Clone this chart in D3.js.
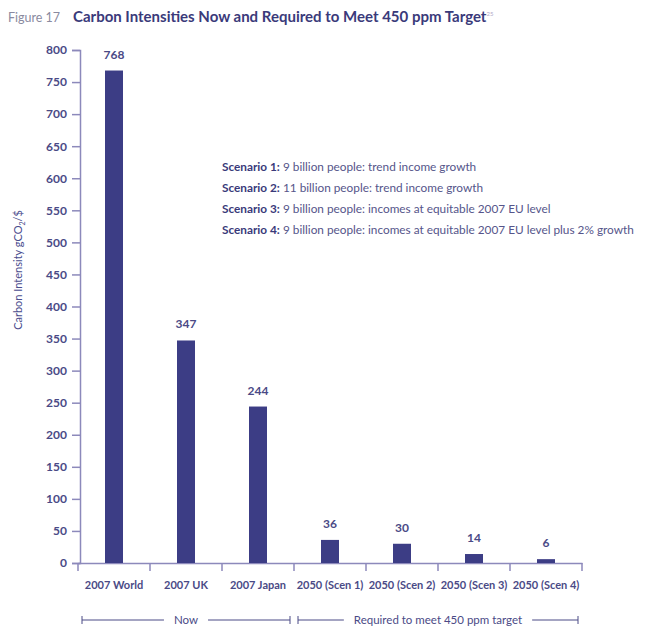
<!DOCTYPE html>
<html>
<head>
<meta charset="utf-8">
<script src="https://cdn.jsdelivr.net/npm/d3@7"></script>
<style>
  body { margin: 0; background: #fff; }
  svg { font-family: Lato, "Open Sans", sans-serif; }
</style>
</head>
<body>
<div id="chart"></div>
<script>
// data
const categories = ["2007 World", "2007 UK", "2007 Japan", "2050 (Scen 1)", "2050 (Scen 2)", "2050 (Scen 3)", "2050 (Scen 4)"];
const values = [768, 347, 244, 36, 30, 14, 6];
const yTicks = [0, 50, 100, 150, 200, 250, 300, 350, 400, 450, 500, 550, 600, 650, 700, 750, 800];
const groups = [
  { label: "Now", from: 0, to: 2 },
  { label: "Required to meet 450 ppm target", from: 3, to: 6 }
];
const scenarioNames = ["Scenario 1:", "Scenario 2:", "Scenario 3:", "Scenario 4:"];
const scenarioTexts = [
  " 9 billion people: trend income growth",
  " 11 billion people: trend income growth",
  " 9 billion people: incomes at equitable 2007 EU level",
  " 9 billion people: incomes at equitable 2007 EU level plus 2% growth"
];

const W = 659, H = 626;
const navy = "#3c3d85", axisCol = "#8c89bb", labelCol = "#4a4a86";

const svg = d3.select("#chart").append("svg")
  .attr("width", W).attr("height", H);

// Title
const title = svg.append("text").attr("x", 8).attr("y", 22);
title.append("tspan").attr("fill", "#8a8aa0").style("font-size", "12.5px").text("Figure 17");
title.append("tspan").attr("x", 73).attr("fill", "#3a3a7a").style("font-size", "15px")
  .style("font-weight", "bold").text("Carbon Intensities Now and Required to Meet 450 ppm Target");
title.append("tspan").attr("dy", -6).attr("fill", "#b0a8c8").style("font-size", "6px").text("25");

// Scales
const x = d3.scaleBand().domain(categories).range([78, 582]).paddingInner(0).paddingOuter(0);
const y = d3.scaleLinear().domain([0, 800]).range([563, 50]);

// y axis
const yAxis = svg.append("g").attr("transform", "translate(80,0)")
  .call(d3.axisLeft(y).tickValues(yTicks).tickSize(8).tickPadding(5));
yAxis.select(".domain").attr("stroke", axisCol).attr("stroke-width", 1.5);
yAxis.selectAll(".tick line").attr("stroke", axisCol).attr("stroke-width", 1.5);
yAxis.selectAll(".tick text").attr("fill", labelCol).style("font-size", "12px")
  .style("font-weight", "bold").style("font-family", "Lato, sans-serif");

// x axis
const xAxis = svg.append("g").attr("transform", "translate(0,563)")
  .call(d3.axisBottom(x).tickSize(0).tickSizeOuter(0).tickPadding(18));
xAxis.select(".domain").attr("stroke", axisCol).attr("stroke-width", 1.5);
xAxis.selectAll(".tick text").attr("fill", labelCol).style("font-size", "11px")
  .style("font-weight", "bold").style("font-family", "Lato, sans-serif");
// boundary ticks between categories
const bounds = categories.map(c => x(c)).concat([x.range()[1]]);
xAxis.selectAll(".bound").data(bounds).join("line")
  .attr("x1", d => d).attr("x2", d => d).attr("y1", 0).attr("y2", 8)
  .attr("stroke", axisCol).attr("stroke-width", 1.5);

// bars
const barW = x.bandwidth() * 0.25;
svg.append("g").selectAll("rect").data(values).join("rect")
  .attr("x", (d, i) => x(categories[i]) + (x.bandwidth() - barW) / 2)
  .attr("y", d => y(d))
  .attr("width", barW)
  .attr("height", d => y(0) - y(d))
  .attr("fill", navy);

// value labels
svg.append("g").selectAll("text").data(values).join("text")
  .attr("x", (d, i) => x(categories[i]) + x.bandwidth() / 2)
  .attr("y", d => y(d) - 12)
  .attr("text-anchor", "middle")
  .attr("fill", labelCol).style("font-size", "12px").style("font-weight", "bold")
  .text(d => d);

// y axis title
const yt = svg.append("text")
  .attr("transform", "translate(22,270) rotate(-90)")
  .attr("text-anchor", "middle").attr("fill", "#4b4d8e").style("font-size", "11px");
yt.append("tspan").text("Carbon Intensity gCO");
yt.append("tspan").attr("dy", 3).style("font-size", "7px").text("2");
yt.append("tspan").attr("dy", -3).text("/$");

// scenario notes
const notes = svg.append("g");
scenarioNames.forEach((n, i) => {
  const t = notes.append("text").attr("x", 222).attr("y", 171 + i * 21)
    .style("font-size", "11.8px");
  t.append("tspan").attr("fill", "#3a3a7a").style("font-weight", "bold").text(n);
  t.append("tspan").attr("fill", "#55558a").text(scenarioTexts[i]);
});

// group brackets
const by = 620;
groups.forEach(gr => {
  const x0 = x(categories[gr.from]) + 4;
  const x1 = x(categories[gr.to]) + x.bandwidth() - 4;
  const cx = (x0 + x1) / 2;
  const g = svg.append("g");
  const lbl = g.append("text").attr("x", cx).attr("y", by + 4).attr("text-anchor", "middle")
    .attr("fill", labelCol).style("font-size", "11.5px").text(gr.label);
  const half = lbl.node().getComputedTextLength() / 2 + 10;
  [[x0, cx - half], [cx + half, x1]].forEach(([a, b]) => {
    g.append("line").attr("x1", a).attr("x2", b).attr("y1", by).attr("y2", by)
      .attr("stroke", labelCol).attr("stroke-width", 1);
  });
  [x0, x1].forEach(xx => {
    g.append("line").attr("x1", xx).attr("x2", xx).attr("y1", by - 4).attr("y2", by + 4)
      .attr("stroke", labelCol).attr("stroke-width", 1);
  });
});
</script>
</body>
</html>
